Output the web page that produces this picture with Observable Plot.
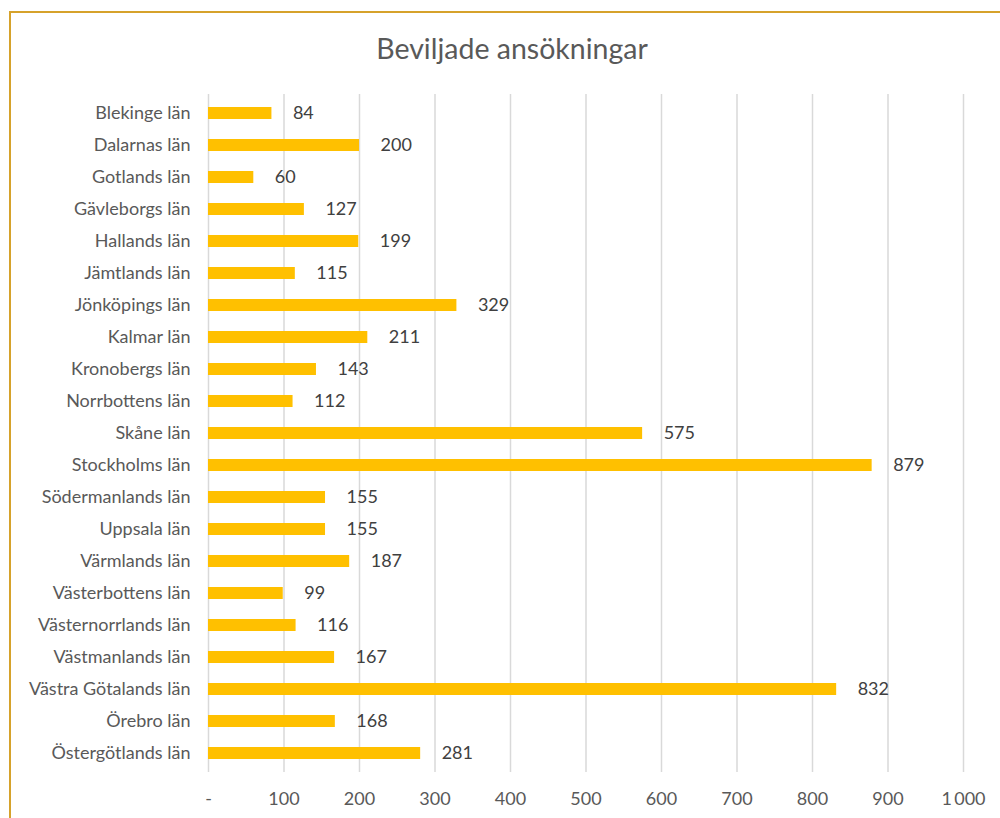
<!DOCTYPE html>
<html>
<head>
<meta charset="utf-8">
<script src="https://cdn.jsdelivr.net/npm/d3@7"></script>
<script src="https://cdn.jsdelivr.net/npm/@observablehq/plot@0.6"></script>
<style>
  body { margin: 0; background: #fff; }
  #wrap { position: relative; width: 1000px; height: 818px; overflow: hidden; background: #fff; }
  #frame { position: absolute; left: 9px; top: 11px; width: 1100px; height: 1000px; border: 2px solid #D6A22B; box-sizing: border-box; }
  #title { position: absolute; left: 0; top: 31px; width: 1024px; text-align: center; font-family: Lato, "Open Sans", sans-serif; font-size: 28.5px; color: #595959; }
  #chart { position: absolute; left: 0; top: 0; }
</style>
</head>
<body>
<div id="wrap">
  <div id="frame"></div>
  <div id="title">Beviljade ansökningar</div>
  <div id="chart"></div>
</div>
<script>
const counties = ["Blekinge län","Dalarnas län","Gotlands län","Gävleborgs län","Hallands län","Jämtlands län","Jönköpings län","Kalmar län","Kronobergs län","Norrbottens län","Skåne län","Stockholms län","Södermanlands län","Uppsala län","Värmlands län","Västerbottens län","Västernorrlands län","Västmanlands län","Västra Götalands län","Örebro län","Östergötlands län"];
const values = [84,200,60,127,199,115,329,211,143,112,575,879,155,155,187,99,116,167,832,168,281];
const xTicks = [0,100,200,300,400,500,600,700,800,900,1000];

const data = counties.map((c, i) => ({county: c, value: values[i]}));
const fmt = v => v === 0 ? "-" : (v >= 1000 ? d3.format(",")(v).replace(/,/g, "\u2009") : String(v));

const chart = Plot.plot({
  width: 1000,
  height: 818,
  marginLeft: 208,
  marginRight: 37,
  marginTop: 94,
  marginBottom: 46,
  style: { fontFamily: "Lato, 'Open Sans', sans-serif", background: "transparent", color: "#595959" },
  x: { domain: [0, 1000], axis: null, label: null },
  y: { domain: counties, padding: 0, axis: null, label: null },
  marks: [
    Plot.ruleX(xTicks, { stroke: "#D9D9D9", strokeWidth: 1.5 }),
    Plot.barX(data, { x: "value", y: "county", fill: "#FFC000", insetTop: 10, insetBottom: 10 }),
    Plot.text(data, { x: "value", y: "county", text: d => String(d.value), dx: 21, textAnchor: "start", fontSize: 18, fill: "#404040" }),
    Plot.axisY({ tickSize: 0, tickPadding: 18, fontSize: 18, color: "#595959", label: null }),
    Plot.axisX({ ticks: xTicks, tickFormat: fmt, tickSize: 0, tickPadding: 20, fontSize: 18, color: "#595959", label: null })
  ]
});
document.getElementById("chart").appendChild(chart);
</script>
</body>
</html>
